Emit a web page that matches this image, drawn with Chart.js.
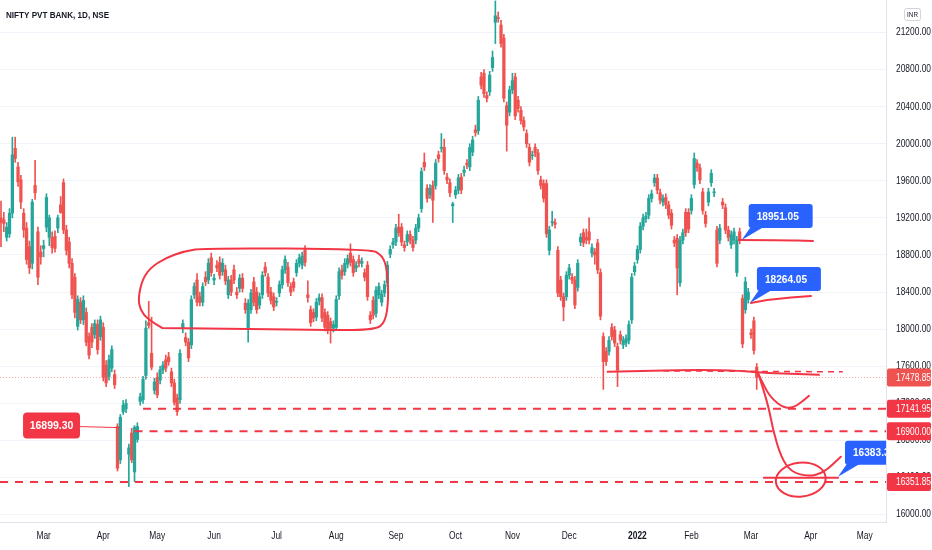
<!DOCTYPE html>
<html><head><meta charset="utf-8">
<script src="https://cdn.jsdelivr.net/npm/chart.js@4.4.1/dist/chart.umd.min.js"></script>
<style>html,body{margin:0;padding:0;background:#fff;}#wrap{width:932px;height:550px;}canvas{display:block;}</style>
</head><body><div id="wrap"><canvas id="c" width="932" height="550"></canvas></div>
<script>
// ---- OHLC data (daily, index 0 = first visible session) ----
const opens = [
19200,19180,18990,19030,19250,19950,19750,19610,19250,19090,
18890,18710,19550,19050,18830,18870,19100,18990,18990,19000,
19090,19340,19580,19070,18940,18710,18560,18030,18290,18100,
18180,17920,18020,17940,18050,17920,18020,17610,17490,17580,
17510,16950,16590,17110,17140,16650,16880,16460,16810,17220,
17240,17500,18070,17740,17340,17480,17450,17560,17670,17700,
17540,17420,17260,17240,18010,17910,17860,17830,18370,18530,
18350,18290,18560,18530,18770,18530,18690,18720,18620,18640,
18370,18530,18640,18400,18440,18550,18280,18010,18210,18510,
18400,18260,18370,18670,18560,18400,18350,18290,18390,18480,
18640,18670,18460,18510,18610,18710,18690,18850,18370,18210,
18180,18130,18300,18340,18180,18150,18080,18010,18020,18360,
18640,18620,18700,18820,18750,18660,18750,18710,18610,18690,
18150,18310,18170,18370,18290,18390,18500,18810,18910,18940,
19100,19100,18910,18940,19020,18960,18960,19090,19300,19800,
19520,19450,19550,19550,19880,19950,19960,19640,19580,19330,
19450,19500,19640,19690,19790,19750,19910,20150,20140,20720,
20760,20520,20560,20820,21310,21360,21280,21140,20410,20340,
20580,20720,20470,20360,20250,20110,19960,19870,19960,19900,
19610,19570,19570,18850,19150,19150,18850,18530,18350,18350,
18580,18560,18530,18450,18940,19040,18990,19050,18820,18830,
18930,18610,17920,17760,17760,18020,17990,17810,17940,17830,
17850,17880,18100,18620,18750,18860,19110,19190,19230,19410,
19580,19630,19470,19370,19420,19340,19250,18960,18980,18500,
18960,19260,19260,19280,19560,19790,19740,19480,19230,19370,
19580,19470,19070,18960,19370,19310,19070,18910,18960,18610,
19050,18330,18210,18320,17960,18090,17590];
const highs = [
19380,19260,19150,19300,20070,20070,19800,19660,19300,19150,
18950,19400,19820,19100,18900,18960,19460,19230,19050,19060,
19230,19430,19620,19120,18990,18760,18600,18360,18340,18360,
18230,17960,18060,18100,18100,18140,18070,17660,17720,17820,
17560,16980,17080,17230,17240,16760,16930,16960,16990,17310,
17490,18090,18300,18130,17470,17530,17600,17650,17720,17750,
17580,17460,17300,17780,18100,17960,17900,18360,18500,18600,
18400,18500,18620,18760,18820,18590,18740,18780,18760,18690,
18570,18580,18690,18450,18590,18600,18330,18320,18430,18560,
18450,18390,18620,18720,18600,18450,18390,18340,18520,18680,
18790,18720,18500,18550,18750,18810,18830,18900,18520,18250,
18220,18330,18380,18380,18220,18190,18120,18090,18360,18660,
18690,18760,18800,18920,18790,18730,18800,18770,18650,18730,
18190,18350,18460,18500,18420,18520,18730,18900,18980,19130,
19240,19140,18950,19060,19060,19000,19130,19240,19740,19900,
19560,19560,19600,19830,19920,20110,20050,19680,19620,19370,
19540,19670,19680,19760,19830,20000,20080,20200,20510,20770,
20800,20560,20780,21000,21540,21420,21330,21180,20450,20620,
20760,20760,20510,20400,20290,20150,20000,19920,20000,19940,
19650,19610,19610,19110,19270,19190,18890,18570,18390,18620,
18700,18600,18570,18750,19030,19080,19080,19200,18920,18870,
18970,18650,17960,17800,17920,18060,18030,17850,17980,17920,
17940,18090,18600,18720,18900,19150,19240,19260,19450,19500,
19670,19670,19510,19450,19460,19380,19290,19000,19020,19000,
19080,19300,19300,19450,19900,19830,19780,19520,19270,19520,
19720,19520,19110,19130,19410,19350,19110,19060,19090,19000,
19090,18370,18560,18440,18000,18130,17630];
const lows = [
18890,19050,18950,18990,19200,19800,19540,19300,18990,18700,
18600,18650,19400,18480,18700,18780,19050,18900,18820,18830,
19040,19250,19030,18800,18660,18330,18120,17990,18060,18050,
17820,17680,17800,17900,17730,17880,17440,17380,17450,17540,
17360,16470,16550,17080,17100,16300,16560,16355,16780,17180,
17200,17460,18010,17560,17300,17260,17410,17520,17540,17610,
17380,17180,17070,17200,17960,17820,17650,17790,18330,18250,
18250,18250,18470,18490,18570,18480,18620,18540,18580,18480,
18330,18360,18490,18330,18400,18400,18170,17860,18170,18250,
18170,18220,18330,18570,18350,18270,18200,18250,18350,18440,
18600,18460,18360,18410,18570,18670,18650,18680,18290,18030,
18080,18090,18260,18080,17980,17950,17850,17970,17990,18320,
18540,18580,18660,18680,18570,18620,18670,18670,18520,18310,
18060,18110,18130,18330,18250,18350,18460,18770,18870,18900,
19000,18900,18840,18900,18920,18840,18920,19050,19260,19710,
19370,19410,19150,19510,19800,19910,19670,19570,19430,19150,
19410,19460,19460,19650,19730,19710,19870,20080,20100,20590,
20500,20450,20520,20780,21080,21310,21040,20450,19920,20300,
20540,20260,20340,20210,20140,19960,19760,19830,19860,19670,
19510,19370,18990,18800,19110,19090,18350,18310,18090,18310,
18540,18490,18220,18410,18900,18890,18920,18920,18780,18700,
18600,18100,17350,17610,17720,17880,17810,17380,17840,17790,
17810,17840,18060,18580,18710,18820,19070,19150,19190,19370,
19540,19460,19350,19330,19300,19190,19080,18890,18370,18460,
18920,19000,19040,19240,19520,19700,19570,19240,19100,19330,
19540,19430,18670,18920,19300,19030,18950,18870,18920,18570,
18920,17800,18170,18280,17900,17730,17350];
const closes = [
19150,19140,19100,19250,19880,19840,19590,19370,19070,18750,
18660,19370,19470,18560,18780,18900,19420,19200,18880,18870,
19200,19260,19070,18850,18710,18370,18180,18320,18100,18310,
17860,17720,17860,18060,17780,18100,17480,17420,17670,17780,
17400,16500,17050,17180,17200,16720,16590,16940,16950,17270,
17460,18010,18040,17590,17430,17290,17560,17610,17580,17650,
17420,17210,17110,17740,18060,17860,17690,18320,18460,18290,
18290,18460,18510,18710,18610,18550,18660,18580,18710,18520,
18530,18400,18530,18370,18550,18440,18210,18280,18390,18290,
18210,18350,18580,18610,18390,18310,18240,18300,18480,18640,
18750,18500,18400,18450,18710,18770,18790,18720,18340,18070,
18120,18290,18340,18120,18020,18000,18010,18050,18320,18620,
18580,18710,18760,18720,18610,18690,18710,18730,18560,18350,
18100,18150,18420,18460,18380,18480,18690,18860,18940,19090,
19040,18940,18880,19020,18960,18880,19090,19200,19700,19750,
19410,19520,19390,19790,19840,19960,19710,19610,19470,19350,
19500,19630,19500,19715,19770,19960,20040,20120,20470,20630,
20540,20490,20740,20930,21380,21350,21080,20490,20200,20580,
20680,20300,20380,20250,20180,20000,19800,19880,19900,19710,
19550,19410,19030,19070,19160,19130,18390,18350,18240,18580,
18660,18530,18260,18710,18990,18930,18960,18960,18880,18800,
18640,18140,17650,17650,17880,17920,17850,17560,17880,17880,
17900,18050,18560,18680,18860,19110,19200,19220,19410,19460,
19630,19500,19390,19410,19340,19230,19120,18930,18660,18960,
19040,19040,19080,19410,19840,19740,19610,19280,19140,19480,
19680,19480,18710,19090,19340,19070,18990,19020,19050,18960,
18960,17840,18510,18400,17940,17770,17478.85];

// ---- axes ----
const monthTicks  = [15,36,55,75,97,118,139,160,180,200,224,243,264,285,304];
const monthLabels = ['Mar','Apr','May','Jun','Jul','Aug','Sep','Oct','Nov','Dec','2022','Feb','Mar','Apr','May'];
const priceTicks  = [16000,16400,16800,17200,17600,18000,18400,18800,19200,19600,20000,20400,20800,21200];

// ---- annotations (index, price) ----
const lastPrice    = 17478.85;
const axisLevels   = [17478.85, 17141.95, 16900.00, 16351.85];
const dashedLevels = [17141.95, 16900.00, 16351.85];
const dashedFrom   = [50, 47, -0.35];
const boxPath = [[56.7,18013],[51.8,18100],[49.0,18207],[48.3,18336],[49.7,18530],[52.5,18659],[57.8,18767],[64.8,18843],[71.9,18875],[130.0,18864],[134.2,18799],[136.0,18638],[136.4,18315],[135.3,18078],[131.8,17992],[115.9,17992],[87.7,18003],[56.7,18013]];
const supportPath = [[213.5,17540],[228.7,17550],[246.3,17561],[260.4,17550],[267.4,17529],[278,17518],[287.9,17507]];
const dashRay     = [[233.0,17550],[296.3,17540]];
const bounceSmall = [[266.4,17529],[269.2,17346],[271.7,17238],[275.5,17152],[278.7,17152],[281.5,17206],[284.4,17281]];
const dropPath    = [[266.7,17507],[269.9,17206],[271.7,16915],[274.5,16624],[278,16463],[284,16409],[289.6,16452],[295.6,16624]];
const baseLine    = [[268.5,16398],[294.6,16398]];
const line18951   = [[259.7,18961],[274.5,18961],[285.8,18950]];
const line18264   = [[263.9,18283],[271,18326],[285.1,18358]];
const targetEllipse = [281.5, 16377, 8.8, 183]; // centre idx, centre price, half-width (idx), half-height (price)
const blueTexts   = ['18951.05','18264.05','16383.35'];
const blueAnchors = [[260.7,18961],[263.6,18283],[294.6,16409]];
const redText     = '16899.30';
const redAnchor   = [41.9, 16938];

const UP='#26a69a', DOWN='#ef5350', MARK='#f23645', BLUE='#2962ff', TXT='#131722';
const SANS='"Liberation Sans","DejaVu Sans",sans-serif';
const SQUEEZE=0.8;

const idx = closes.map((_,i)=>i);
const colors = idx.map(i => closes[i] >= opens[i] ? UP : DOWN);

function P(ch,p){return [ch.scales.x.getPixelForValue(p[0]), ch.scales.y.getPixelForValue(p[1])];}
function smooth(ctx,pts){
  ctx.beginPath(); ctx.moveTo(pts[0][0],pts[0][1]);
  if(pts.length===2){ctx.lineTo(pts[1][0],pts[1][1]);return;}
  for(let i=1;i<pts.length-1;i++){const mx=(pts[i][0]+pts[i+1][0])/2,my=(pts[i][1]+pts[i+1][1])/2;ctx.quadraticCurveTo(pts[i][0],pts[i][1],mx,my);}
  const l=pts[pts.length-1]; ctx.lineTo(l[0],l[1]);
}
function rr(ctx,x,y,w,h,r){ctx.beginPath();ctx.moveTo(x+r,y);ctx.arcTo(x+w,y,x+w,y+h,r);ctx.arcTo(x+w,y+h,x,y+h,r);ctx.arcTo(x,y+h,x,y,r);ctx.arcTo(x,y,x+w,y,r);ctx.closePath();}
function sqText(ctx,t,x,y,align,font,color,sq){
  ctx.save(); ctx.font=font; ctx.fillStyle=color; ctx.textBaseline='middle';
  const w=ctx.measureText(t).width*sq;
  const x0 = align==='center' ? x-w/2 : (align==='right' ? x-w : x);
  ctx.translate(x0,y); ctx.scale(sq,1); ctx.textAlign='left'; ctx.fillText(t,0,0); ctx.restore();
}

const annot = {
  id:'annot',
  beforeDatasetsDraw(ch){
    const {ctx,chartArea:a,scales:{y}}=ch;
    ctx.save();
    const py=Math.round(y.getPixelForValue(lastPrice))+0.5;
    ctx.strokeStyle='rgba(239,83,80,0.5)'; ctx.lineWidth=1; ctx.setLineDash([1,2]);
    ctx.beginPath(); ctx.moveTo(a.left,py); ctx.lineTo(a.right,py); ctx.stroke();
    ctx.restore();
  },
  afterDatasetsDraw(ch){
    const {ctx,chartArea:a,scales:{x,y}}=ch;
    ctx.save();
    ctx.beginPath(); ctx.rect(a.left,a.top,a.right-a.left,a.bottom-a.top); ctx.clip();
    ctx.strokeStyle=MARK; ctx.lineWidth=2; ctx.lineCap='butt'; ctx.setLineDash([8,7]);
    dashedLevels.forEach((v,k)=>{const yy=y.getPixelForValue(v);ctx.beginPath();ctx.moveTo(x.getPixelForValue(dashedFrom[k]),yy);ctx.lineTo(a.right,yy);ctx.stroke();});
    ctx.lineWidth=1.5; ctx.setLineDash([6,5]);
    smooth(ctx,dashRay.map(q=>P(ch,q))); ctx.stroke();
    ctx.setLineDash([]); ctx.lineWidth=2; ctx.lineCap='round'; ctx.lineJoin='round';
    [boxPath,supportPath,bounceSmall,dropPath,baseLine,line18951,line18264].forEach(p=>{smooth(ctx,p.map(q=>P(ch,q)));ctx.stroke();});
    const c=P(ch,[targetEllipse[0],targetEllipse[1]]);
    const rx=Math.abs(x.getPixelForValue(targetEllipse[0]+targetEllipse[2])-c[0]);
    const ry=Math.abs(y.getPixelForValue(targetEllipse[1]+targetEllipse[3])-c[1]);
    ctx.beginPath(); ctx.ellipse(c[0],c[1],rx,ry,-0.1,0,Math.PI*2); ctx.stroke();
    // red label with connector
    const ra=P(ch,redAnchor);
    ctx.lineWidth=1; ctx.beginPath(); ctx.moveTo(ra[0]-40,ra[1]-1); ctx.lineTo(ra[0],ra[1]); ctx.stroke();
    ctx.fillStyle=MARK; rr(ctx,ra[0]-97,ra[1]-15,57,26,4); ctx.fill();
    ctx.fillStyle='#fff'; ctx.font='bold 10.5px '+SANS; ctx.textAlign='center'; ctx.textBaseline='middle';
    ctx.fillText(redText,ra[0]-97+28.5,ra[1]-15+13.5);
    // blue callouts
    blueAnchors.forEach((an,k)=>{
      const p=P(ch,an); const bx=p[0]+7, by=p[1]-36, w=64, h=24;
      ctx.fillStyle=BLUE;
      ctx.beginPath(); ctx.moveTo(p[0],p[1]); ctx.lineTo(bx+2,by+h-1); ctx.lineTo(bx+15,by+h-1); ctx.closePath(); ctx.fill();
      rr(ctx,bx,by,w,h,3); ctx.fill();
      sqText(ctx,blueTexts[k],bx+8,by+h/2+0.5,'left','bold 11.5px '+SANS,'#fff',0.88);
    });
    ctx.restore();
  },
  afterDraw(ch){
    const {ctx,chartArea:a,scales:{x,y}}=ch;
    ctx.save();
    // axis tick labels (taken from the scales' own ticks)
    y.ticks.forEach(t=>{
      sqText(ctx,Number(t.value).toFixed(2),a.right+10,y.getPixelForValue(t.value),'left','10.5px '+SANS,TXT,SQUEEZE);
    });
    x.ticks.forEach((t,i)=>{
      const bold = monthLabels[i]==='2022';
      sqText(ctx,monthLabels[i],x.getPixelForValue(t.value),536,'center',(bold?'bold ':'')+'10.5px '+SANS,TXT,SQUEEZE);
    });
    axisLevels.forEach((v,k)=>{
      const yy=y.getPixelForValue(v);
      ctx.fillStyle = k===0 ? DOWN : MARK;
      rr(ctx,a.right+1,yy-9,44,18,2); ctx.fill();
      sqText(ctx,v.toFixed(2),a.right+10,yy+0.5,'left','10.5px '+SANS,'#fff',SQUEEZE);
    });
    sqText(ctx,'NIFTY PVT BANK, 1D, NSE',6,16,'left','bold 9px '+SANS,TXT,0.9);
    ctx.strokeStyle='#d1d4dc'; ctx.lineWidth=1; rr(ctx,904.5,8.5,16,12,2); ctx.stroke();
    sqText(ctx,'INR',912.5,14.8,'center','7px '+SANS,TXT,0.9);
    ctx.restore();
  }
};

new Chart(document.getElementById('c'),{
  type:'bar',
  data:{datasets:[
    {label:'wick',data:idx.map(i=>({x:i,y:[lows[i],highs[i]]})),backgroundColor:colors,barThickness:1,grouped:false,order:2,borderWidth:0},
    {label:'body',data:idx.map(i=>({x:i,y:[opens[i],closes[i]]})),backgroundColor:colors,barThickness:2.6,minBarLength:1,grouped:false,order:1,borderWidth:0}
  ]},
  options:{
    responsive:false,animation:false,devicePixelRatio:1,
    layout:{padding:0},
    plugins:{legend:{display:false},tooltip:{enabled:false}},
    scales:{
      x:{type:'linear',min:-0.35,max:311.5,offset:false,position:'bottom',
        grid:{display:false,drawTicks:false,offset:false},
        border:{display:true,color:'#e0e3eb'},
        afterBuildTicks:s=>{s.ticks=monthTicks.map(v=>({value:v}));},
        afterFit:s=>{s.height=28;s.paddingLeft=0;s.paddingRight=0;},
        ticks:{display:false,autoSkip:false,maxRotation:0}
      },
      y:{type:'linear',position:'right',min:15920,max:21550,
        grid:{color:'#f0f3fa',drawTicks:false},
        border:{display:true,color:'#e0e3eb'},
        afterBuildTicks:s=>{s.ticks=priceTicks.map(v=>({value:v}));},
        afterFit:s=>{s.width=46;s.paddingTop=0;s.paddingBottom=0;},
        ticks:{display:false}
      }
    }
  },
  plugins:[annot]
});
</script></body></html>
